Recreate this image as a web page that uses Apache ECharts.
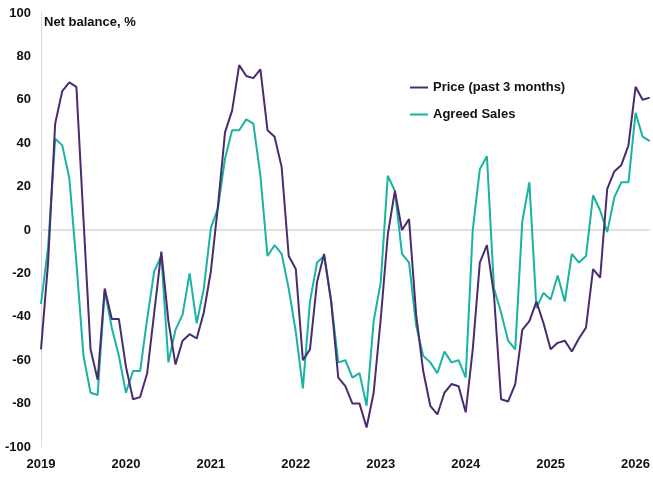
<!DOCTYPE html>
<html>
<head>
<meta charset="utf-8">
<script src="https://cdn.jsdelivr.net/npm/echarts@6/dist/echarts.min.js"></script>
<style>html,body{margin:0;padding:0;background:#fff}#c{width:653px;height:478px}</style>
</head>
<body>
<div id="c"></div>
<script>
const startYear = 2019;
const price = [
  -55, -15, 49, 64, 68, 66, 5, -55, -69, -27, -41, -41,
  -63, -78, -77, -66, -38, -10, -42, -62, -51, -48, -50, -38,
  -19, 11, 45, 55, 76, 71, 70, 74, 46, 43, 29, -12,
  -18, -60, -55, -24, -11, -33, -68, -72, -80, -80, -91, -75,
  -41, -2, 18, 0, 5, -39, -65, -81, -85, -75, -71, -72,
  -84, -55, -15, -7, -30, -78, -79, -71, -46, -42, -33, -43,
  -55, -52, -51, -56, -50, -45, -18, -22, 19, 27, 30, 39,
  66, 60, 61
];
const agreedSales = [
  -34, -8, 42, 39, 24, -15, -58, -75, -76, -28, -45, -58,
  -75, -65, -65, -41, -19, -12, -61, -46, -39, -20, -43, -27,
  1, 10, 33, 46, 46, 51, 49, 25, -12, -7, -11, -27,
  -47, -73, -33, -15, -12, -33, -61, -60, -68, -66, -81, -42,
  -24, 25, 18, -11, -15, -44, -58, -61, -66, -56, -61, -60,
  -68, 0, 28, 34, -27, -38, -51, -55, 4, 22, -36, -29,
  -32, -21, -33, -11, -15, -12, 16, 9, -1, 15, 22, 22,
  54, 43, 41
];
const seriesNames = ['Price (past 3 months)', 'Agreed Sales'];
const yTitle = 'Net balance, %';

const months = price.map((_, i) => {
  const y = startYear + Math.floor(i / 12);
  const m = (i % 12) + 1;
  return y + '-' + (m < 10 ? '0' + m : m);
});

const chart = echarts.init(document.getElementById('c'));
const txt = '#111';
const font = 'Liberation Sans, Arial, sans-serif';
const fs = 13;
chart.setOption({
  animation: false,
  title: {
    text: yTitle, left: 44, top: 15, padding: 0,
    textStyle: { fontSize: fs, fontWeight: 'bold', color: txt, fontFamily: font, lineHeight: 15 }
  },
  legend: {
    orient: 'vertical', left: 410, top: 80, padding: 0,
    icon: 'rect', itemWidth: 18, itemHeight: 2, itemGap: 12,
    data: seriesNames,
    textStyle: { fontSize: fs, fontWeight: 'bold', color: txt, fontFamily: font, lineHeight: 15 }
  },
  grid: { left: 41, right: 0, top: 13, bottom: 31, containLabel: false },
  xAxis: {
    type: 'category', data: months, boundaryGap: false,
    axisLine: { show: false }, axisTick: { show: false },
    axisLabel: {
      interval: (i, v) => v.endsWith('-01'),
      formatter: v => v.slice(0, 4),
      fontSize: fs, fontWeight: 'bold', color: txt, fontFamily: font, margin: 11
    },
    splitLine: { show: false }
  },
  yAxis: {
    type: 'value', min: -100, max: 100, interval: 20,
    axisLine: { show: true, lineStyle: { color: '#d9d9d9', width: 1 } },
    axisTick: { show: false },
    splitLine: { show: false },
    axisLabel: { fontSize: fs, fontWeight: 'bold', color: txt, fontFamily: font, margin: 10 }
  },
  series: [
    {
      name: seriesNames[0], type: 'line', data: price, symbol: 'none',
      lineStyle: { color: '#4a2c6e', width: 2 }, itemStyle: { color: '#4a2c6e' }, z: 3,
      markLine: {
        silent: true, symbol: 'none', label: { show: false },
        lineStyle: { color: '#e0e0e0', width: 2, type: 'solid' },
        data: [{ yAxis: 0 }], z: 1
      }
    },
    {
      name: seriesNames[1], type: 'line', data: agreedSales, symbol: 'none',
      lineStyle: { color: '#19b3a3', width: 2 }, itemStyle: { color: '#19b3a3' }, z: 2
    }
  ]
});
</script>
</body>
</html>
